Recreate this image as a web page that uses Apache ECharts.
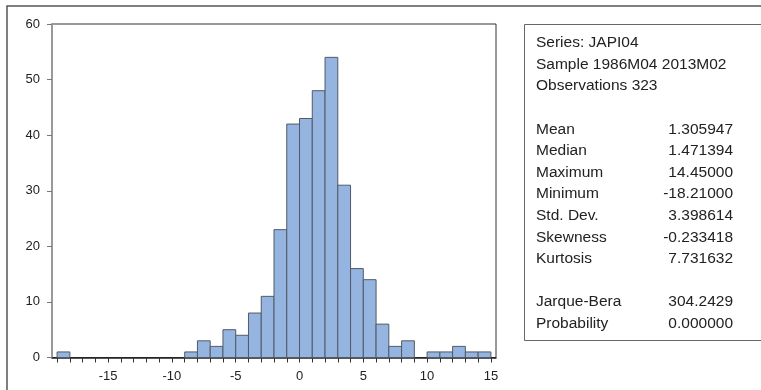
<!DOCTYPE html>
<html>
<head>
<meta charset="utf-8">
<script src="https://cdn.jsdelivr.net/npm/echarts@6/dist/echarts.min.js"></script>
<style>
  html, body { margin: 0; padding: 0; background: #fff; }
  #hist { width: 761px; height: 390px; }
</style>
</head>
<body>
<div id="hist"></div>
<script>
// bins of width 1: lower edge and count
var binStarts = [-19, -9, -8, -7, -6, -5, -4, -3, -2, -1, 0, 1, 2, 3, 4, 5, 6, 7, 8, 10, 11, 12, 13, 14];
var binCounts = [1, 1, 3, 2, 5, 4, 8, 11, 23, 42, 43, 48, 54, 31, 16, 14, 6, 2, 3, 1, 1, 2, 1, 1];

var xLabels = [-15, -10, -5, 0, 5, 10, 15];
var xTicks = [];
for (var t = -19; t <= 15; t++) xTicks.push(t);

var statHeader = ['Series: JAPI04', 'Sample 1986M04 2013M02', 'Observations 323'];
var statNames = ['Mean', 'Median', 'Maximum', 'Minimum', 'Std. Dev.', 'Skewness', 'Kurtosis'];
var statValues = ['1.305947', '1.471394', '14.45000', '-18.21000', '3.398614', '-0.233418', '7.731632'];
var testNames = ['Jarque-Bera', 'Probability'];
var testValues = ['304.2429', '0.000000'];

var myChart = echarts.init(document.getElementById('hist'));

var bins = binStarts.map(function (s, i) { return [s, s + 1, binCounts[i]]; });

// text block on the right
var FONT = '"Liberation Sans", Arial, sans-serif';
var textEls = [];
var lineY = function (i) { return 43 + 21.6 * i; };
function addLine(i, left, right) {
  textEls.push({
    type: 'text', x: 536, y: lineY(i),
    style: { text: left, font: '15.5px ' + FONT, fill: '#222', verticalAlign: 'middle' }
  });
  if (right) {
    textEls.push({
      type: 'text', x: 733, y: lineY(i),
      style: { text: right, font: '15.5px ' + FONT, fill: '#222', align: 'right', verticalAlign: 'middle' }
    });
  }
}
statHeader.forEach(function (s, i) { addLine(i, s); });
statNames.forEach(function (s, i) { addLine(i + 4, s, statValues[i]); });
testNames.forEach(function (s, i) { addLine(i + 12, s, testValues[i]); });

var option = {
  animation: false,
  backgroundColor: '#fff',
  grid: {
    left: 52, top: 24, right: 265, bottom: 32.5,
    show: true, borderColor: '#333', borderWidth: 1
  },
  xAxis: {
    type: 'value', min: -19.4, max: 15.4,
    splitLine: { show: false },
    axisLine: { onZero: false, lineStyle: { color: '#222', width: 1.5 } },
    axisTick: { customValues: xTicks, length: 5, lineStyle: { color: '#333' } },
    axisLabel: { customValues: xLabels, margin: 12, color: '#222', fontSize: 13, fontFamily: FONT }
  },
  yAxis: {
    type: 'value', min: 0, max: 60, interval: 10,
    splitLine: { show: false },
    axisLine: { show: true, onZero: false, lineStyle: { color: '#999', width: 2 } },
    axisTick: { show: true, length: 5, lineStyle: { color: '#777' } },
    axisLabel: { margin: 12, color: '#222', fontSize: 13, fontFamily: FONT }
  },
  series: [{
    type: 'custom',
    data: bins,
    encode: { x: [0, 1], y: 2 },
    renderItem: function (params, api) {
      var p0 = api.coord([api.value(0), api.value(2)]);
      var p1 = api.coord([api.value(1), 0]);
      return {
        type: 'rect',
        shape: { x: p0[0], y: p0[1], width: p1[0] - p0[0], height: p1[1] - p0[1] },
        style: { fill: '#95b4e0', stroke: '#505a68', lineWidth: 1 }
      };
    }
  }],
  graphic: [
    {
      type: 'polyline',
      shape: { points: [[7, 390], [7, 6], [761, 6]] },
      style: { stroke: '#555', lineWidth: 1.5, fill: null }
    },
    {
      type: 'rect',
      shape: { x: 524.5, y: 24.5, width: 240, height: 316 },
      style: { stroke: '#666', lineWidth: 1, fill: null }
    }
  ].concat(textEls)
};

myChart.setOption(option);
</script>
</body>
</html>
